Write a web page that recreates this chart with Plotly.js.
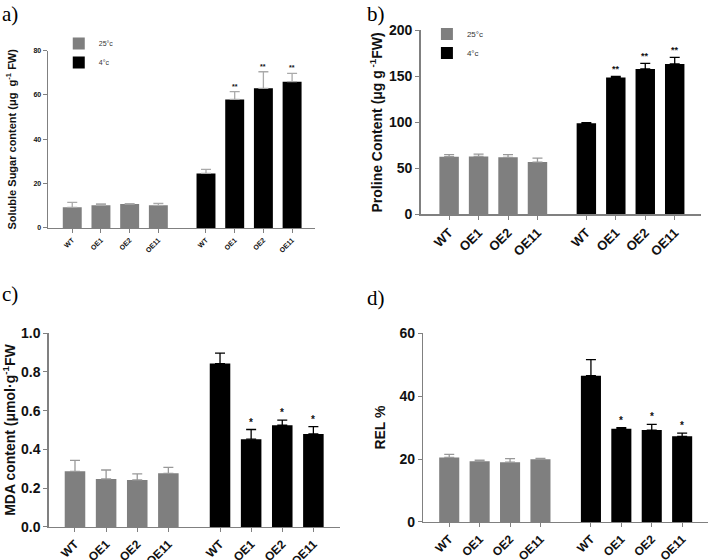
<!DOCTYPE html>
<html>
<head>
<meta charset="utf-8">
<script src="https://cdn.plot.ly/plotly-3.0.1.min.js"></script>
<style>
  html, body { margin: 0; padding: 0; background: #fff; }
  #plot { width: 708px; height: 560px; }
</style>
</head>
<body>
<div id="plot"></div>
<script>
// genotypes, drawn twice: 25°c group then 4°c group
let lines = ["WT", "OE1", "OE2", "OE11"];
let pos25 = [0, 1, 2, 3];
let pos4 = [4.66, 5.66, 6.66, 7.66];

// a) soluble sugar
let sugar25 = [9.3, 10.2, 10.8, 10.2];
let sugar25Err = [2.2, 0.6, 0.2, 0.9];
let sugar4 = [24.6, 58.0, 63.0, 66.0];
let sugar4Err = [1.8, 3.5, 7.5, 3.8];
let sugarSig = ["", "**", "**", "**"];

// b) proline
let pro25 = [62.7, 63.0, 62.0, 56.9];
let pro25Err = [2.2, 2.6, 2.9, 4.3];
let pro4 = [98.9, 148.6, 158.0, 163.4];
let pro4Err = [0.7, 1.4, 6.1, 7.2];
let proSig = ["", "**", "**", "**"];

// c) MDA
let mda25 = [0.287, 0.248, 0.243, 0.277];
let mda25Err = [0.057, 0.046, 0.031, 0.031];
let mda4 = [0.843, 0.453, 0.525, 0.480];
let mda4Err = [0.054, 0.050, 0.026, 0.038];
let mdaSig = ["", "*", "*", "*"];

// d) REL
let rel25 = [20.5, 19.3, 19.0, 19.9];
let rel25Err = [1.0, 0.3, 1.1, 0.3];
let rel4 = [46.5, 29.6, 29.2, 27.2];
let rel4Err = [5.1, 0.4, 1.8, 1.0];
let relSig = ["", "*", "*", "*"];

let grey = "#7f7f7f";
let axisGrey = "#808080";
let sans = "Liberation Sans, Arial, sans-serif";
let serif = "Liberation Serif, Times New Roman, serif";

function bars(x, y, err, color, errColor, name, ax, legend, show) {
  return {
    type: "bar",
    x: x, y: y, name: name,
    width: 0.66,
    marker: {color: color, line: {width: 0}},
    error_y: {type: "data", array: err, arrayminus: y.map(() => 0), symmetric: false,
              color: errColor, thickness: 1.3, width: 5},
    xaxis: "x" + ax, yaxis: "y" + ax,
    legend: legend, showlegend: show
  };
}

let traces = [
  bars(pos25, sugar25, sugar25Err, grey, "#aaaaaa", "25°c", "", "legend", true),
  bars(pos4, sugar4, sugar4Err, "#000", "#aaaaaa", "4°c", "", "legend", true),
  bars(pos25, pro25, pro25Err, grey, "#999999", "25°c", "2", "legend2", true),
  bars(pos4, pro4, pro4Err, "#000", "#000", "4°c", "2", "legend2", true),
  bars(pos25, mda25, mda25Err, grey, "#999999", "25°c", "3", "legend", false),
  bars(pos4, mda4, mda4Err, "#000", "#000", "4°c", "3", "legend", false),
  bars(pos25, rel25, rel25Err, grey, "#999999", "25°c", "4", "legend", false),
  bars(pos4, rel4, rel4Err, "#000", "#000", "4°c", "4", "legend", false)
];

function xax(domain, range, size) {
  return {
    domain: domain, range: range,
    tickvals: pos25.concat(pos4), ticktext: lines.concat(lines),
    tickangle: -45, ticks: "outside", ticklen: 4, tickcolor: axisGrey,
    showline: true, linecolor: axisGrey, linewidth: 1.5,
    showgrid: false, zeroline: false, automargin: false,
    tickfont: {family: sans, size: size, weight: "bold", color: "#111"}
  };
}
function yax(domain, range, dtick, title, size, tsize, fmt) {
  return {
    domain: domain, range: range, dtick: dtick, tickformat: fmt,
    ticks: "outside", ticklen: 4, tickcolor: axisGrey,
    showline: true, linecolor: axisGrey, linewidth: 1.5,
    showgrid: false, zeroline: false, automargin: false,
    tickfont: {family: sans, size: size, weight: "bold", color: "#111"},
    title: {text: title, font: {family: sans, size: tsize, weight: "bold", color: "#111"}}
  };
}

let annotations = [];
function stars(sig, y, err, ax, size) {
  sig.forEach(function (s, i) {
    if (!s) return;
    annotations.push({
      x: pos4[i], y: y[i] + err[i], xref: "x" + ax, yref: "y" + ax,
      text: s, showarrow: false, yanchor: "bottom", yshift: 0,
      font: {family: sans, size: size, color: "#111", weight: "bold"}
    });
  });
}
stars(sugarSig, sugar4, sugar4Err, "", 7);
stars(proSig, pro4, pro4Err, "2", 9);
stars(mdaSig, mda4, mda4Err, "3", 10);
stars(relSig, rel4, rel4Err, "4", 10);

// panel letters
[["a)", 0.0, 1.0], ["b)", 0.515, 1.0], ["c)", 0.0, 0.5], ["d)", 0.515, 0.492]].forEach(function (p) {
  annotations.push({
    text: p[0], x: p[1], y: p[2], xref: "paper", yref: "paper",
    xanchor: "left", yanchor: "top", showarrow: false,
    font: {family: serif, size: 21, color: "#000"}
  });
});

let layout = {
  width: 708, height: 560,
  margin: {l: 0, r: 0, t: 0, b: 0},
  paper_bgcolor: "#fff", plot_bgcolor: "#fff",
  barmode: "overlay",
  xaxis: xax([0.068, 0.445], [-0.84, 8.46], 7),
  yaxis: yax([0.593, 0.9095], [0, 80], 20, "Soluble Sugar content (μg  g<sup>-1</sup> FW)", 7, 11),
  xaxis2: xax([0.594, 0.99], [-0.97, 8.55], 13),
  yaxis2: yax([0.617, 0.946], [0, 200], 50, "Proline Content (μg g<sup> -1</sup>FW)", 14, 14),
  xaxis3: xax([0.069, 0.48], [-0.84, 8.51], 12),
  yaxis3: yax([0.059, 0.405], [0, 1.0], 0.2, "MDA content (μmol·g<sup>-1</sup>FW", 14, 14, ".1f"),
  xaxis4: xax([0.598, 1.0], [-0.85, 8.51], 12),
  yaxis4: yax([0.068, 0.405], [0, 60], 20, "REL %", 14, 14),
  legend: {x: 0.083, y: 0.948, xanchor: "left", yanchor: "top", bgcolor: "rgba(0,0,0,0)",
           itemwidth: 30, font: {family: sans, size: 7, color: "#333"}},
  legend2: {x: 0.603, y: 0.965, xanchor: "left", yanchor: "top", bgcolor: "rgba(0,0,0,0)",
            itemwidth: 30, font: {family: sans, size: 8, color: "#333"}},
  annotations: annotations
};
layout.xaxis.anchor = "y"; layout.xaxis2.anchor = "y2"; layout.xaxis3.anchor = "y3"; layout.xaxis4.anchor = "y4";
layout.yaxis.anchor = "x"; layout.yaxis2.anchor = "x2"; layout.yaxis3.anchor = "x3"; layout.yaxis4.anchor = "x4";

Plotly.newPlot("plot", traces, layout, {displayModeBar: false, staticPlot: true});
</script>
</body>
</html>
